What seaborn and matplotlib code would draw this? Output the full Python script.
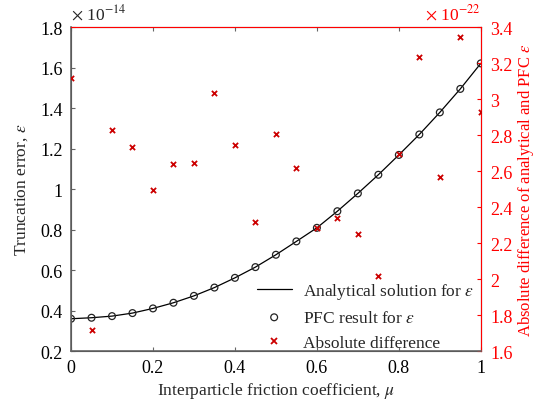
import numpy as np
import pandas as pd
import seaborn as sns
import matplotlib
matplotlib.use("Agg")
import matplotlib.pyplot as plt
from matplotlib.ticker import FuncFormatter, MultipleLocator

# friction coefficient
mu = [0.0, 0.05, 0.1, 0.15, 0.2, 0.25, 0.3, 0.35, 0.4, 0.45, 0.5,
      0.55, 0.6, 0.65, 0.7, 0.75, 0.8, 0.85, 0.9, 0.95, 1.0]
# truncation error (x 1e-14)
analytical = [0.360, 0.365, 0.373, 0.388, 0.411, 0.439, 0.473, 0.514, 0.562, 0.615, 0.676,
              0.742, 0.809, 0.891, 0.979, 1.071, 1.169, 1.270, 1.379, 1.495, 1.621]
pfc = analytical[:]
# absolute difference (x 1e-22)
abs_diff = [3.117, 1.720, 2.828, 2.732, 2.494, 2.641, 2.644, 3.032, 2.746, 2.317, 2.804,
            2.617, 2.285, 2.339, 2.250, 2.017, 2.694, 3.233, 2.570, 3.348, 2.926]

df = pd.DataFrame({"mu": mu, "analytical": analytical, "pfc": pfc, "diff": abs_diff})

sns.set_style("ticks")
plt.rcParams['font.family'] = ['Liberation Serif', 'DejaVu Serif']
plt.rcParams['mathtext.fontset'] = 'stix'

red = "#ff0000"
xred = "#cc0000"
gray = "#666666"
fs_tick = 13
fs = 12.5

fig, ax = plt.subplots(figsize=(5.36, 4.02), dpi=100)
fig.subplots_adjust(left=0.1325, right=0.897, top=0.930, bottom=0.124)

sns.lineplot(data=df, x="mu", y="analytical", ax=ax, color="black", lw=0.9,
             label="Analytical solution for $\\epsilon$")
sns.scatterplot(data=df, x="mu", y="pfc", ax=ax, marker="o", s=24, facecolor="none",
                edgecolor="#222222", linewidth=0.9, label="PFC result for $\\epsilon$", zorder=3)

ax2 = ax.twinx()
sns.scatterplot(data=df, x="mu", y="diff", ax=ax2, marker="x", s=14, color=xred,
                linewidth=1.3, zorder=4)

ax.set_xlim(0, 1)
ax.set_ylim(0.2, 1.8)
ax2.set_ylim(1.6, 3.4)
ax.xaxis.set_major_locator(MultipleLocator(0.2))
ax.yaxis.set_major_locator(MultipleLocator(0.2))
ax2.yaxis.set_major_locator(MultipleLocator(0.2))
fmt = FuncFormatter(lambda v, p: "%g" % round(v, 6))
ax.xaxis.set_major_formatter(fmt)
ax.yaxis.set_major_formatter(fmt)
ax2.yaxis.set_major_formatter(fmt)

ax.set_xlabel("Interparticle friction coefficient, $\\mu$", fontsize=fs)
ax.set_ylabel("Truncation error, $\\epsilon$", fontsize=fs)
ax2.set_ylabel("Absolute difference of analytical and PFC $\\epsilon$", fontsize=12, color=red)
ax.xaxis.set_label_coords(0.5, -0.09)
ax.yaxis.set_label_coords(-0.10, 0.5)
ax2.yaxis.set_label_coords(1.087, 0.5)

ax.tick_params(axis="both", direction="in", labelsize=fs_tick, labelcolor="black", length=3, pad=6)
ax.tick_params(axis="x", color=gray, top=True)
ax.tick_params(axis="y", color=gray)
ax2.tick_params(axis="y", direction="in", labelsize=fs_tick, colors=red, length=3, pad=7)
for t in ax.xaxis.get_major_ticks():
    t.tick2line.set_color(red)
for s in ["left", "bottom"]:
    ax2.spines[s].set_color(gray)
    ax2.spines[s].set_linewidth(1.2)
ax2.spines["top"].set_color(red)
ax2.spines["right"].set_color(red)

ax.text(0.0, 1.012, "$\\times$ 10$^{-14}$", transform=ax.transAxes, fontsize=fs, ha="left", va="bottom")
ax2.text(1.0, 1.012, "$\\times$ 10$^{-22}$", transform=ax2.transAxes, fontsize=fs, ha="right",
         va="bottom", color=red)

h1, l1 = ax.get_legend_handles_labels()
ax.get_legend().remove()
h2 = plt.Line2D([], [], marker="x", color=xred, ls="none", markersize=4, markeredgewidth=1.3)
ax2.legend(h1 + [h2], l1 + ["Absolute difference"], loc="lower right", bbox_to_anchor=(1.0, -0.02),
           frameon=False, fontsize=fs, handlelength=2.0, handletextpad=0.65, borderaxespad=0,
           borderpad=0.4, labelspacing=0.5)

fig.savefig("out.png", dpi=100)
